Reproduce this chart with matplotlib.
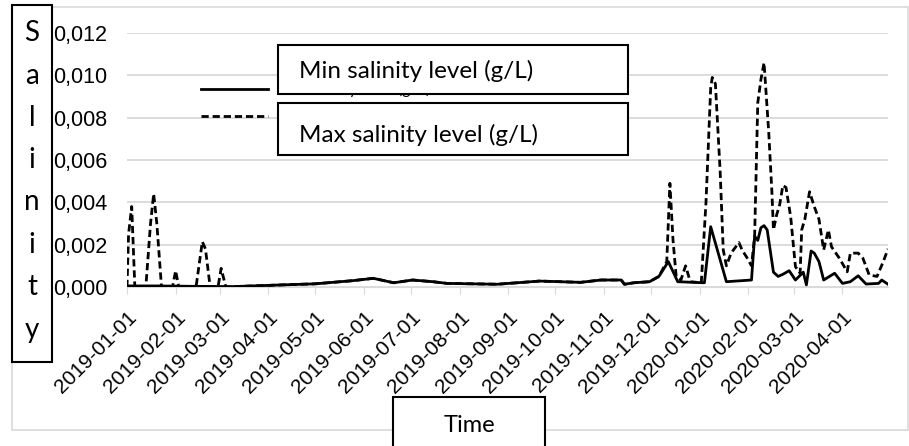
import matplotlib
matplotlib.use("Agg")
import matplotlib.pyplot as plt
from matplotlib.patches import Rectangle
from matplotlib.ticker import FuncFormatter
import pandas as pd

# ---------------- data ----------------
min_dates = ["2019-01-01", "2019-01-20", "2019-02-15", "2019-03-10", "2019-03-18",
             "2019-04-10", "2019-05-01", "2019-05-25", "2019-06-07", "2019-06-20",
             "2019-07-02", "2019-07-15", "2019-07-24", "2019-08-25", "2019-09-21",
             "2019-10-17", "2019-10-30", "2019-11-12", "2019-11-14", "2019-11-20",
             "2019-11-30", "2019-12-06", "2019-12-12", "2019-12-18", "2020-01-04",
             "2020-01-08", "2020-01-18", "2020-02-03", "2020-02-05", "2020-02-07",
             "2020-02-09", "2020-02-11", "2020-02-13", "2020-02-17", "2020-02-20",
             "2020-02-23", "2020-02-27", "2020-03-02", "2020-03-07", "2020-03-09",
             "2020-03-12", "2020-03-14", "2020-03-17", "2020-03-20", "2020-03-27",
             "2020-04-01", "2020-04-06", "2020-04-11", "2020-04-16", "2020-04-24",
             "2020-04-26", "2020-04-30"]
min_values = [0.00005, 0.00005, 0.00003, 0.00002, 0.00004,
              0.00010, 0.00015, 0.00030, 0.00041, 0.00020,
              0.00033, 0.00025, 0.00017, 0.00013, 0.00028,
              0.00022, 0.00033, 0.00033, 0.00013, 0.00020,
              0.00025, 0.00050, 0.00120, 0.00025, 0.00020,
              0.00285, 0.00025, 0.00033, 0.00240, 0.00220,
              0.00280, 0.00290, 0.00270, 0.00070, 0.00050,
              0.00060, 0.00077, 0.00033, 0.00070, 0.00010,
              0.00170, 0.00160, 0.00120, 0.00033, 0.00065,
              0.00017, 0.00025, 0.00053, 0.00014, 0.00017,
              0.00033, 0.00013]

max_dates = ["2019-01-01", "2019-01-02", "2019-01-04", "2019-01-06", "2019-01-13",
             "2019-01-16", "2019-01-18", "2019-01-20", "2019-01-23", "2019-01-30",
             "2019-02-01", "2019-02-03", "2019-02-14", "2019-02-18", "2019-02-20",
             "2019-02-23", "2019-02-28", "2019-03-02", "2019-03-05", "2019-03-18",
             "2019-04-10", "2019-05-01", "2019-05-25", "2019-06-07", "2019-06-20",
             "2019-07-02", "2019-07-15", "2019-07-24", "2019-08-25", "2019-09-21",
             "2019-10-17", "2019-10-30", "2019-11-12", "2019-11-14", "2019-11-20",
             "2019-11-30", "2019-12-06", "2019-12-11", "2019-12-13", "2019-12-15",
             "2019-12-17", "2019-12-20", "2019-12-23", "2019-12-26", "2020-01-02",
             "2020-01-05", "2020-01-08", "2020-01-09", "2020-01-11", "2020-01-14",
             "2020-01-16", "2020-01-18", "2020-01-21", "2020-01-24", "2020-01-26",
             "2020-01-28", "2020-01-31", "2020-02-03", "2020-02-05", "2020-02-07",
             "2020-02-09", "2020-02-11", "2020-02-14", "2020-02-16", "2020-02-17",
             "2020-02-19", "2020-02-21", "2020-02-23", "2020-02-25", "2020-02-28",
             "2020-03-02", "2020-03-05", "2020-03-06", "2020-03-08", "2020-03-11",
             "2020-03-14", "2020-03-17", "2020-03-20", "2020-03-23", "2020-03-25",
             "2020-03-30", "2020-04-04", "2020-04-06", "2020-04-11", "2020-04-14",
             "2020-04-18", "2020-04-23", "2020-04-27", "2020-04-30"]
max_values = [0.00000, 0.00250, 0.00380, 0.00000, 0.00000,
              0.00300, 0.00440, 0.00300, 0.00000, 0.00000,
              0.00077, 0.00000, 0.00000, 0.00214, 0.00180,
              0.00000, 0.00000, 0.00088, 0.00000, 0.00004,
              0.00010, 0.00015, 0.00030, 0.00041, 0.00020,
              0.00033, 0.00025, 0.00017, 0.00013, 0.00028,
              0.00022, 0.00033, 0.00033, 0.00013, 0.00020,
              0.00025, 0.00050, 0.00120, 0.00490, 0.00220,
              0.00050, 0.00033, 0.00100, 0.00025, 0.00020,
              0.00400, 0.00940, 0.00990, 0.00960, 0.00550,
              0.00175, 0.00100, 0.00160, 0.00190, 0.00210,
              0.00175, 0.00140, 0.00100, 0.00240, 0.00870,
              0.00980, 0.01060, 0.00730, 0.00450, 0.00270,
              0.00340, 0.00390, 0.00480, 0.00470, 0.00330,
              0.00096, 0.00065, 0.00270, 0.00320, 0.00450,
              0.00380, 0.00320, 0.00175, 0.00270, 0.00190,
              0.00136, 0.00072, 0.00160, 0.00160, 0.00136,
              0.00057, 0.00050, 0.00120, 0.00180]

min_label = "Min salinity level (g/L)"
max_label = "Max salinity level (g/L)"
y_ticks = [0.000, 0.002, 0.004, 0.006, 0.008, 0.010, 0.012]
x_tick_dates = ["2019-01-01", "2019-02-01", "2019-03-01", "2019-04-01", "2019-05-01",
                "2019-06-01", "2019-07-01", "2019-08-01", "2019-09-01", "2019-10-01",
                "2019-11-01", "2019-12-01", "2020-01-01", "2020-02-01", "2020-03-01",
                "2020-04-01"]
y_title = "Salinity"
x_title = "Time"

# ---------------- figure ----------------
W, H = 909, 446
fig = plt.figure(figsize=(W / 100, H / 100), dpi=100)


def fx(x):
    return x / W


def fy(y):
    return 1 - y / H


ax = fig.add_axes([fx(127), fy(287), fx(888) - fx(127), fy(33) - fy(287)])

mind = pd.to_datetime(min_dates)
maxd = pd.to_datetime(max_dates)
l_max, = ax.plot(maxd, max_values, color="black", lw=2.0, linestyle=(0, (2.6, 1.4)),
                 label=max_label, zorder=3)
l_min, = ax.plot(mind, min_values, color="black", lw=2.0, label=min_label, zorder=4)

ax.set_ylim(0, 0.012)
ax.set_xlim(pd.Timestamp("2019-01-01"), pd.Timestamp("2020-04-30"))
ax.set_yticks(y_ticks)
ax.yaxis.set_major_formatter(FuncFormatter(lambda v, p: f"{v:.3f}".replace(".", ",")))
ax.set_xticks(pd.to_datetime(x_tick_dates))
ax.set_xticklabels(x_tick_dates, rotation=45, ha="right", va="top",
                   rotation_mode="anchor", fontfamily="Liberation Sans", fontsize=15)
for lab in ax.get_yticklabels():
    lab.set_fontfamily("Liberation Sans")
    lab.set_fontsize(15.5)

ax.grid(axis="y", color="#d9d9d9", lw=1.3)
ax.set_axisbelow(True)
for s in ["top", "right", "left"]:
    ax.spines[s].set_visible(False)
ax.spines["bottom"].set_color("#d9d9d9")
ax.tick_params(axis="y", length=0, pad=14)
ax.tick_params(axis="x", length=5, color="#d9d9d9", pad=10)
ax.set_facecolor("none")

# legend (partly hidden by the text boxes)
ax.legend([l_min, l_max], [min_label, max_label], loc="upper left",
          bbox_to_anchor=(fx(187), fy(68)), bbox_transform=fig.transFigure,
          frameon=False, handlelength=4.2, handletextpad=0.5, labelspacing=0.75,
          prop={"family": "Lato", "size": 11.5})

# chart area border
fig.add_artist(Rectangle((fx(12), fy(430)), fx(908) - fx(12), fy(7) - fy(430),
                         transform=fig.transFigure, fill=False, ec="#d9d9d9", lw=1.2, zorder=0.5))


# boxes drawn on top of the chart
def box(x0, y0, x1, y1, text=None, tx=None, ty=None, size=14, ha="left"):
    fig.add_artist(Rectangle((fx(x0), fy(y1)), fx(x1) - fx(x0), fy(y0) - fy(y1),
                             transform=fig.transFigure, fc="white", ec="black", lw=1.5, zorder=10))
    if text is not None:
        fig.text(fx(tx), fy(ty), text, ha=ha, va="center", fontfamily="Lato",
                 fontsize=size, zorder=11)


box(278, 45, 628, 94, min_label, 299, 71, 17.5)
box(278, 103, 628, 155, max_label, 299, 135, 17.5)
box(393, 397, 545, 460, x_title, 469, 425, 17, ha="center")
box(12, 5, 52, 362)
letter_y = [33, 76, 118, 160, 202, 245, 287, 330]
for i, (ch, yy) in enumerate(zip(y_title.lower(), letter_y)):
    fig.text(fx(32), fy(yy), ch.upper() if i == 0 else ch, ha="center", va="center",
             fontfamily="Lato", fontsize=20, zorder=11)

fig.savefig("out.png", dpi=100)
